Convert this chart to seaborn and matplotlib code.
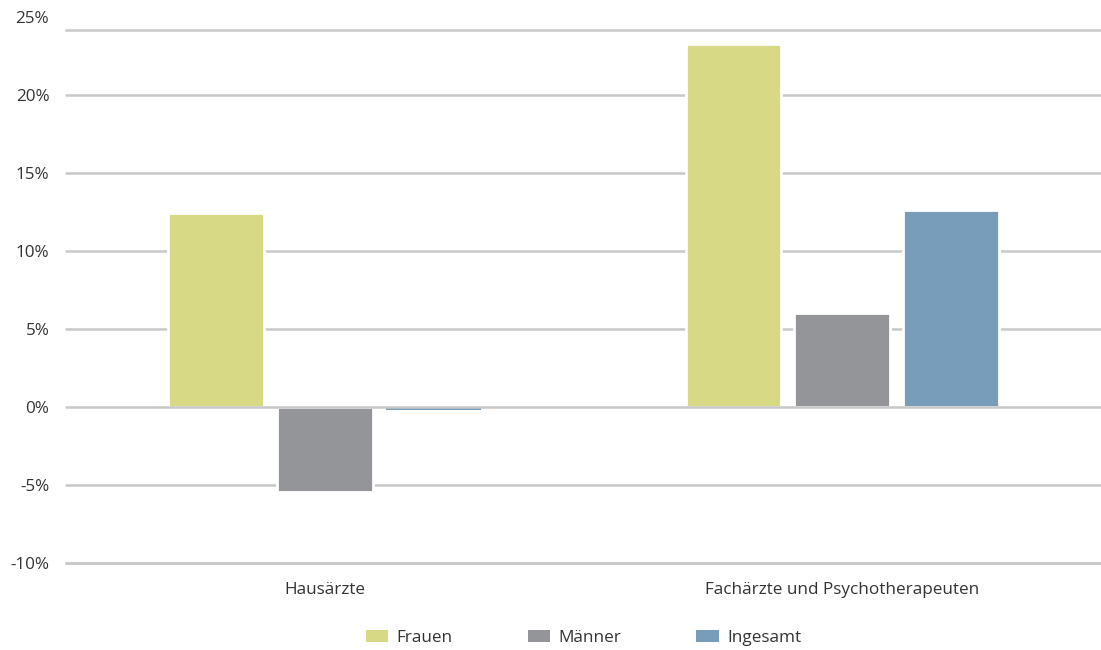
import matplotlib
matplotlib.use("Agg")
import matplotlib.pyplot as plt
import matplotlib.transforms as mtransforms
import seaborn as sns
import pandas as pd

categories = ["Hausärzte", "Fachärzte und Psychotherapeuten"]
series = ["Frauen", "Männer", "Ingesamt"]
frauen = [12.45, 23.25]
maenner = [-5.45, 6.05]
ingesamt = [-0.2, 12.6]
ytick_values = [-10, -5, 0, 5, 10, 15, 20, 25]
ytick_labels = ["-10%", "-5%", "0%", "5%", "10%", "15%", "20%", "25%"]
colors = ["#D7D984", "#939598", "#789DBA"]

rows = []
for s, vals in zip(series, [frauen, maenner, ingesamt]):
    for c, v in zip(categories, vals):
        rows.append({"Kategorie": c, "Gruppe": s, "Wert": v})
df = pd.DataFrame(rows)

sns.set_theme(style="white")
plt.rcParams["font.family"] = ["Open Sans", "DejaVu Sans"]
FS = 12.3
TXT = "#333333"

fig = plt.figure(figsize=(11.01, 6.5), dpi=100)
ax = fig.add_axes([66 / 1101, 1 - 563 / 650, 1 - 66 / 1101, (563 - 30) / 650])

grid_color = "#C8C8C8"
for v in ytick_values[:-1]:
    ax.axhline(v, color=grid_color, lw=1.8, zorder=(3 if v == 0 else 0),
               clip_on=False)

sns.barplot(data=df, x="Kategorie", y="Wert", hue="Gruppe", order=categories,
            hue_order=series, palette=colors, width=0.63, gap=0.12,
            edgecolor="white", linewidth=2, saturation=1, ax=ax, zorder=2,
            errorbar=None)
for p in ax.patches:
    if abs(p.get_height()) < 1:
        p.set_linewidth(0)

ax.set_xlim(-0.5, 1.5)
top = 25 - 13 / 15.6
ax.set_ylim(-10, top)
ax.set_yticks(ytick_values[:-1])
ax.set_yticklabels(ytick_labels[:-1])
trans = mtransforms.blended_transform_factory(ax.transAxes, ax.transData)
ax.text(-17 / 1035, ytick_values[-1], ytick_labels[-1], transform=trans,
        ha="right", va="center_baseline", fontsize=FS, color=TXT, clip_on=False)

ax.tick_params(axis="y", length=0, pad=12, labelsize=FS, labelcolor=TXT)
ax.tick_params(axis="x", length=0, pad=14, labelsize=FS, labelcolor=TXT)
ax.set_xlabel("")
ax.set_ylabel("")
for side in ["left", "right"]:
    ax.spines[side].set_visible(False)
for side in ["top", "bottom"]:
    ax.spines[side].set_color(grid_color)
    ax.spines[side].set_linewidth(1.8)
    ax.spines[side].set_zorder(0)

handles, labels = ax.get_legend_handles_labels()
ax.legend(handles, labels, loc="center", bbox_to_anchor=(0.5, -0.141),
          ncol=3, frameon=False, fontsize=FS, handlelength=1.3,
          handleheight=0.7, columnspacing=4.4, handletextpad=0.5,
          labelcolor=TXT, borderpad=0)

fig.savefig("out.png", dpi=100)
